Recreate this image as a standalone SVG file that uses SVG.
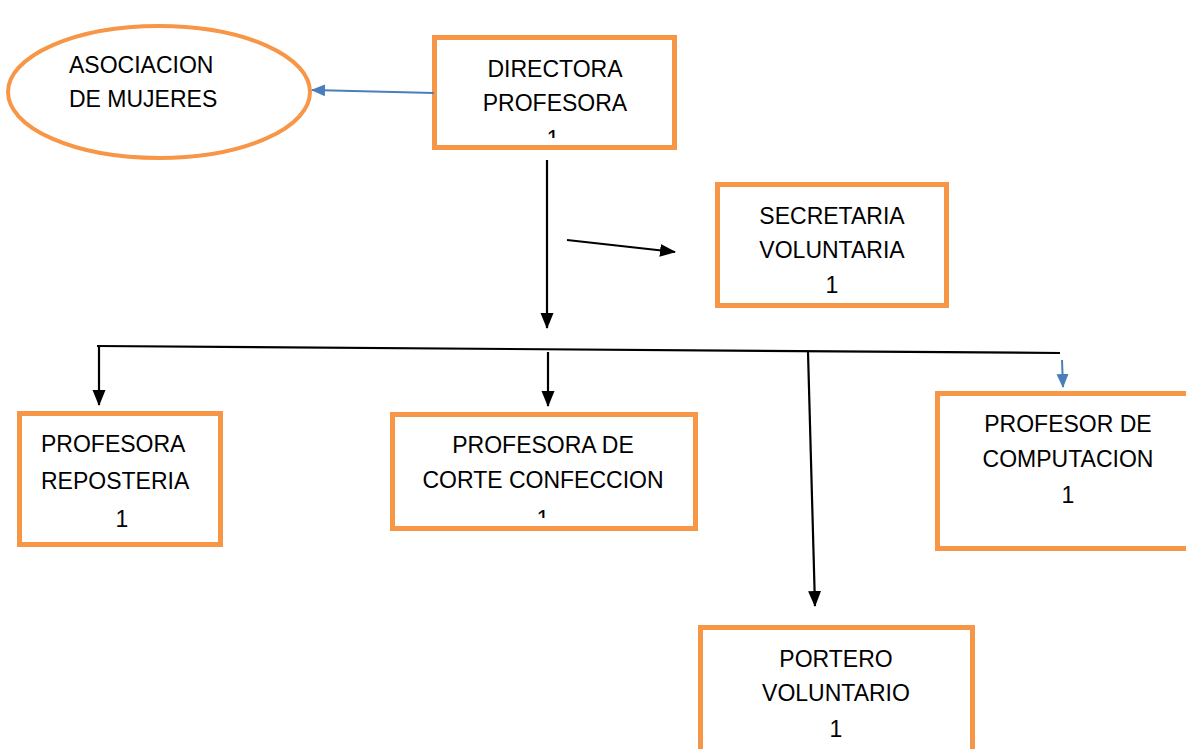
<svg xmlns="http://www.w3.org/2000/svg" width="1186" height="749" viewBox="0 0 1186 749">
<style>
.box{fill:#fff;stroke:#F79646;stroke-width:5}
.t{font-family:"Liberation Sans",Arial,sans-serif;font-size:23px;fill:#000;text-anchor:middle}
.l{text-anchor:start}
.k{fill:none;stroke:#000;stroke-width:2.2}
.b{fill:none;stroke:#4A7EBB;stroke-width:2}
</style>
<defs>
<marker id="ak" markerWidth="10" markerHeight="10" refX="9" refY="5" orient="auto" markerUnits="userSpaceOnUse" viewBox="0 0 10 10"><path d="M0,0 L10,5 L0,10 Z" fill="#000"/></marker>
<marker id="akl" markerWidth="16" markerHeight="16" refX="15" refY="8" orient="auto" markerUnits="userSpaceOnUse" viewBox="0 0 16 16"><path d="M0,1.5 L16,8 L0,14.5 Z" fill="#000"/></marker>
<marker id="ab" markerWidth="14" markerHeight="14" refX="13" refY="7" orient="auto" markerUnits="userSpaceOnUse" viewBox="0 0 14 14"><path d="M0,1 L14,7 L0,13 Z" fill="#4A7EBB"/></marker>
<clipPath id="c1"><rect x="430" y="30" width="250" height="108"/></clipPath>
<clipPath id="c2"><rect x="385" y="405" width="320" height="113"/></clipPath>
</defs>
<g id="asociacion">
<ellipse cx="159" cy="92" rx="151" ry="66" fill="#fff" stroke="#F79646" stroke-width="4"/>
<text class="t l" x="69" y="73">ASOCIACION</text>
<text class="t l" x="69" y="107">DE MUJERES</text>
</g>
<g id="directora">
<rect class="box" x="434.5" y="37.5" width="240" height="110"/>
<text class="t" x="555" y="77">DIRECTORA</text>
<text class="t" x="555" y="111">PROFESORA</text>
<text class="t" x="553" y="147" clip-path="url(#c1)">1</text>
</g>
<g id="secretaria">
<rect class="box" x="717.5" y="184.5" width="229" height="121"/>
<text class="t" x="832" y="224">SECRETARIA</text>
<text class="t" x="832" y="258">VOLUNTARIA</text>
<text class="t" x="832" y="293">1</text>
</g>
<g id="reposteria">
<rect class="box" x="19.5" y="413.5" width="201" height="131"/>
<text class="t l" x="41" y="452">PROFESORA</text>
<text class="t l" x="41" y="489">REPOSTERIA</text>
<text class="t" x="122" y="527">1</text>
</g>
<g id="corte">
<rect class="box" x="392.5" y="414.5" width="303" height="114"/>
<text class="t" x="543" y="453">PROFESORA DE</text>
<text class="t" x="543" y="488">CORTE CONFECCION</text>
<text class="t" x="543" y="527" clip-path="url(#c2)">1</text>
</g>
<g id="computacion">
<rect class="box" x="937.5" y="393.5" width="260" height="155"/>
<text class="t" x="1068" y="432">PROFESOR DE</text>
<text class="t" x="1068" y="467">COMPUTACION</text>
<text class="t" x="1068" y="503">1</text>
</g>
<g id="portero">
<rect class="box" x="700.5" y="627.5" width="272" height="130"/>
<text class="t" x="836" y="667">PORTERO</text>
<text class="t" x="836" y="701">VOLUNTARIO</text>
<text class="t" x="836" y="737">1</text>
</g>
<g id="connectors">
<path class="b" d="M434,93 L312,90" marker-end="url(#ab)"/>
<path class="k" d="M547,160 L547,328" marker-end="url(#akl)"/>
<path class="k" d="M567,240 L675,252" marker-end="url(#akl)"/>
<path class="k" d="M97,346 L1060,353"/>
<path class="k" d="M99,346 L99,405" marker-end="url(#akl)"/>
<path class="k" d="M548,352 L548,406" marker-end="url(#akl)"/>
<path class="k" d="M808,352 L815,606" marker-end="url(#akl)"/>
<path class="b" d="M1062,360 L1063,387" marker-end="url(#ab)"/>
</g>
</svg>
